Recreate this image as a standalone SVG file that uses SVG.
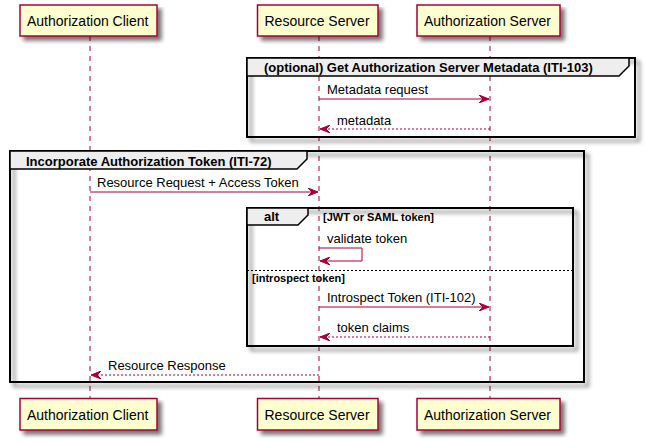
<svg xmlns="http://www.w3.org/2000/svg" width="647" height="443" viewBox="0 0 647 443">
<defs>
<filter id="sh" x="-5%" y="-5%" width="115%" height="130%">
<feGaussianBlur in="SourceAlpha" stdDeviation="2" result="b"/>
<feOffset in="b" dx="4" dy="4" result="o"/>
<feComponentTransfer in="o" result="s"><feFuncA type="linear" slope="0.55"/></feComponentTransfer>
<feMerge><feMergeNode in="s"/><feMergeNode in="SourceGraphic"/></feMerge>
</filter>
<marker id="ah" viewBox="0 0 10 8" refX="10" refY="4" markerWidth="10" markerHeight="8" markerUnits="userSpaceOnUse" orient="auto">
<path d="M0,0 L10,4 L0,8 L4,4 Z" fill="#A80036" stroke="#A80036" stroke-width="1"/>
</marker>
</defs>
<style>
.box{fill:#FEFECE;stroke:#A80036;stroke-width:1.5}
.life{stroke:#A80036;stroke-width:1;stroke-dasharray:5,5;fill:none}
.msg{stroke:#A80036;stroke-width:1;fill:none}
.ret{stroke:#A80036;stroke-width:1;fill:none;stroke-dasharray:2,2}
.frame{fill:none;stroke:#000;stroke-width:2}
.tab{fill:#EEEEEE;stroke:#000;stroke-width:1.5}
.pt{font-family:"Liberation Sans",Arial,sans-serif;font-size:14px;fill:#000}
.mt{font-family:"Liberation Sans",Arial,sans-serif;font-size:13px;fill:#000}
.ft{font-family:"Liberation Sans",Arial,sans-serif;font-size:13px;font-weight:bold;fill:#000}
.gt{font-family:"Liberation Sans",Arial,sans-serif;font-size:11px;font-weight:bold;fill:#000}
</style>
<rect width="647" height="443" fill="#FFFFFF"/>
<g id="lifelines">
<line class="life" x1="90" y1="36" x2="90" y2="398"/>
<line class="life" x1="319" y1="36" x2="319" y2="398"/>
<line class="life" x1="490" y1="36" x2="490" y2="398"/>
</g>
<g id="frame-optional">
<rect class="frame" x="247" y="58" width="388" height="79" filter="url(#sh)"/>
<path class="tab" d="M247,58 L629,58 L629,66 L619,76 L247,76 Z"/>
<text class="ft" x="264" y="72">(optional) Get Authorization Server Metadata (ITI-103)</text>
</g>
<g id="frame-incorporate">
<rect class="frame" x="10" y="151" width="574" height="231" filter="url(#sh)"/>
<path class="tab" d="M10,151 L307,151 L307,159 L297,169 L10,169 Z"/>
<text class="ft" x="26" y="166">Incorporate Authorization Token (ITI-72)</text>
</g>
<g id="frame-alt">
<rect class="frame" x="247" y="208" width="326" height="138" filter="url(#sh)"/>
<path class="tab" d="M247,208 L308,208 L308,215 L298,225 L247,225 Z"/>
<text class="ft" x="264" y="221">alt</text>
<text class="gt" x="323" y="221">[JWT or SAML token]</text>
<line x1="247" y1="270.5" x2="573" y2="270.5" stroke="#000" stroke-width="1" stroke-dasharray="2,2"/>
<text class="gt" x="252" y="282">[introspect token]</text>
</g>
<g id="connectors">
<line class="msg" x1="319" y1="99" x2="489" y2="99" marker-end="url(#ah)"/>
<text class="mt" x="327" y="94">Metadata request</text>
<line class="ret" x1="490" y1="129" x2="320" y2="129" marker-end="url(#ah)"/>
<text class="mt" x="337" y="125">metadata</text>
<line class="msg" x1="90" y1="192" x2="318" y2="192" marker-end="url(#ah)"/>
<text class="mt" x="97" y="187">Resource Request + Access Token</text>
<polyline class="msg" points="319,248 362,248 362,261 320,261" marker-end="url(#ah)"/>
<text class="mt" x="327" y="243">validate token</text>
<line class="msg" x1="319" y1="307" x2="489" y2="307" marker-end="url(#ah)"/>
<text class="mt" x="327" y="302">Introspect Token (ITI-102)</text>
<line class="ret" x1="490" y1="337" x2="320" y2="337" marker-end="url(#ah)"/>
<text class="mt" x="337" y="332">token claims</text>
<line class="ret" x1="319" y1="375" x2="91" y2="375" marker-end="url(#ah)"/>
<text class="mt" x="108" y="370">Resource Response</text>
</g>
<g id="p-client-top">
<rect class="box" x="20" y="5" width="137" height="31" filter="url(#sh)"/>
<text class="pt" x="27" y="26">Authorization Client</text>
</g>
<g id="p-resource-top">
<rect class="box" x="257.5" y="5" width="120.5" height="31" filter="url(#sh)"/>
<text class="pt" x="264.5" y="26">Resource Server</text>
</g>
<g id="p-authserver-top">
<rect class="box" x="417" y="5" width="143" height="31" filter="url(#sh)"/>
<text class="pt" x="424" y="26">Authorization Server</text>
</g>
<g id="p-client-bottom">
<rect class="box" x="20" y="398.5" width="137" height="31.5" filter="url(#sh)"/>
<text class="pt" x="27" y="420">Authorization Client</text>
</g>
<g id="p-resource-bottom">
<rect class="box" x="257.5" y="398.5" width="120.5" height="31.5" filter="url(#sh)"/>
<text class="pt" x="264.5" y="420">Resource Server</text>
</g>
<g id="p-authserver-bottom">
<rect class="box" x="417" y="398.5" width="143" height="31.5" filter="url(#sh)"/>
<text class="pt" x="424" y="420">Authorization Server</text>
</g>
</svg>
